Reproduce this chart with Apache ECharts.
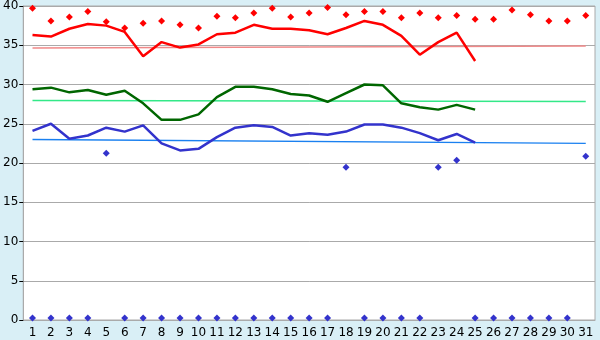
<!DOCTYPE html>
<html>
<head>
<meta charset="utf-8">
<script src="https://cdn.jsdelivr.net/npm/echarts@6/dist/echarts.min.js"></script>
<style>
  html, body { margin: 0; padding: 0; background: #d9eff6; }
  #chart { width: 600px; height: 340px; }
</style>
</head>
<body>
<div id="chart"></div>
<script>
// days of the month
const days = [];
for (let d = 1; d <= 31; d++) days.push(String(d));

// daily maximum (red diamonds)
const maxPoints = [39.7, 38.1, 38.6, 39.3, 38.0, 37.2, 37.8, 38.1, 37.6, 37.2,
  38.7, 38.5, 39.1, 39.7, 38.6, 39.1, 39.8, 38.9, 39.3, 39.3,
  38.5, 39.1, 38.5, 38.8, 38.3, 38.3, 39.5, 38.9, 38.1, 38.1, 38.8];
// daily minimum (blue diamonds), 0 where nothing recorded
const minPoints = [0, 0, 0, 0, 21.0, 0, 0, 0, 0, 0,
  0, 0, 0, 0, 0, 0, 0, 19.2, 0, 0,
  0, 0, 19.2, 20.1, 0, 0, 0, 0, 0, 0, 20.6];

// curves (days 1..25)
const maxLine = [36.3, 36.1, 37.1, 37.7, 37.5, 36.7, 33.6, 35.4, 34.7, 35.1,
  36.4, 36.6, 37.6, 37.1, 37.1, 36.9, 36.4, 37.2, 38.1, 37.6,
  36.2, 33.8, 35.4, 36.6, 33.0];
const meanLine = [29.4, 29.6, 29.0, 29.3, 28.7, 29.2, 27.6, 25.5, 25.5, 26.2,
  28.4, 29.7, 29.7, 29.4, 28.8, 28.6, 27.8, 28.9, 30.0, 29.9,
  27.6, 27.1, 26.8, 27.4, 26.8];
const minLine = [24.1, 25.0, 23.1, 23.5, 24.5, 24.0, 24.8, 22.5, 21.6, 21.8,
  23.3, 24.5, 24.8, 24.6, 23.5, 23.8, 23.6, 24.0, 24.9, 24.9,
  24.5, 23.8, 22.9, 23.7, 22.6];

// normals, start (day 1) and end (day 31)
const normMax = [34.65, 34.9];
const normMean = [27.95, 27.85];
const normMin = [23.0, 22.5];

const chart = echarts.init(document.getElementById('chart'));

function normSeries(vals, color) {
  return {
    type: 'line',
    data: [[0, vals[0]], [30, vals[1]]],
    symbol: 'none',
    silent: true,
    lineStyle: { color: color, width: 1.5 },
    z: 2
  };
}

function curve(vals, color) {
  return {
    type: 'line',
    data: vals,
    symbol: 'none',
    lineStyle: { color: color, width: 2.5 },
    z: 3
  };
}

chart.setOption({
  backgroundColor: '#d9eff6',
  animation: false,
  grid: { left: 21, right: 5, top: 6, bottom: 20, show: true, backgroundColor: '#fff', borderColor: '#aaa', borderWidth: 1 },
  xAxis: {
    type: 'category',
    data: days,
    boundaryGap: true,
    axisLine: { lineStyle: { color: '#aaa' } },
    axisTick: { alignWithLabel: true, length: 6, lineStyle: { color: '#000' } },
    axisLabel: { color: '#000', fontFamily: 'DejaVu Sans', fontSize: 12, margin: 7, interval: 0 },
    splitLine: { show: false }
  },
  yAxis: {
    type: 'value',
    min: 0,
    max: 40,
    interval: 5,
    axisLine: { show: true, lineStyle: { color: '#aaa' } },
    axisTick: { show: true, length: 4, lineStyle: { color: '#000' } },
    axisLabel: { color: '#000', fontFamily: 'DejaVu Sans', fontSize: 12, margin: 5 },
    splitLine: { lineStyle: { color: '#aaa', width: 1 } }
  },
  series: [
    normSeries(normMax, '#f08888'),
    normSeries(normMean, '#33e888'),
    normSeries(normMin, '#1a80f0'),
    curve(maxLine, '#ff0000'),
    curve(meanLine, '#006600'),
    curve(minLine, '#3333cc'),
    {
      type: 'scatter',
      data: maxPoints,
      symbol: 'diamond',
      symbolSize: 7,
      itemStyle: { color: '#ff0000', opacity: 1 },
      z: 4
    },
    {
      type: 'scatter',
      data: minPoints,
      symbol: 'diamond',
      symbolSize: 7,
      symbolOffset: [0, -2],
      clip: false,
      itemStyle: { color: '#3333cc', opacity: 1 },
      z: 4
    }
  ]
});
</script>
</body>
</html>
